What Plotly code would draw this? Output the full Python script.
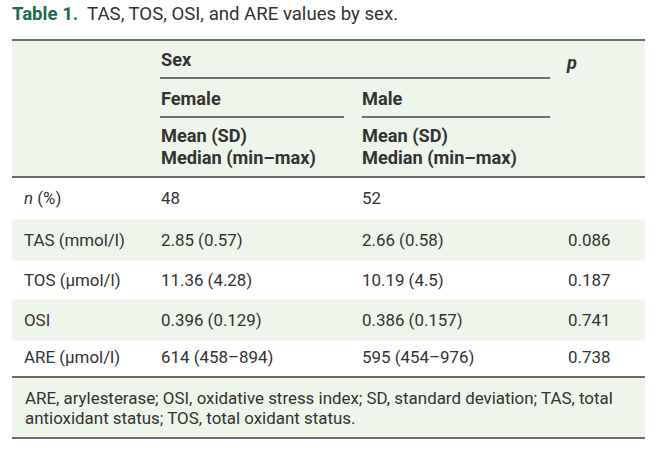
import plotly.graph_objects as go

title_bold = "Table 1."
title_rest = "TAS, TOS, OSI, and ARE values by sex."
group_header = "Sex"
p_header = "p"
sex_labels = ["Female", "Male"]
stat_header = ["Mean (SD)", "Median (min–max)"]
row_labels = ["<i>n</i> (%)", "TAS (mmol/l)", "TOS (µmol/l)", "OSI", "ARE (µmol/l)"]
female_vals = ["48", "2.85 (0.57)", "11.36 (4.28)", "0.396 (0.129)", "614 (458–894)"]
male_vals = ["52", "2.66 (0.58)", "10.19 (4.5)", "0.386 (0.157)", "595 (454–976)"]
p_vals = ["", "0.086", "0.187", "0.741", "0.738"]
footnote = ["ARE, arylesterase; OSI, oxidative stress index; SD, standard deviation; TAS, total",
            "antioxidant status; TOS, total oxidant status."]

W, H = 659, 452
GREEN_BG = "#eef5ea"
LINE = "#6b6b6b"
TXT = "#333333"
TITLE_GREEN = "#1d6b4e"
FONT = "Roboto"
FS = 16.9
FSB = 18.2

fig = go.Figure()
shapes = []
ann = []

L, R = 12, 645
shapes.append(dict(type="rect", x0=L, x1=R, y0=40, y1=177, fillcolor=GREEN_BG, line_width=0, layer="below"))
row_y = [198, 240, 280, 320, 357]
band_h = 41
for i, y in enumerate(row_y):
    if i % 2 == 1:
        shapes.append(dict(type="rect", x0=L, x1=R, y0=y - band_h / 2, y1=y + band_h / 2,
                           fillcolor=GREEN_BG, line_width=0, layer="below"))
shapes.append(dict(type="rect", x0=L, x1=R, y0=377, y1=438, fillcolor=GREEN_BG, line_width=0, layer="below"))

def hline(y, x0, x1, w=1.5, c=LINE):
    shapes.append(dict(type="line", x0=x0, x1=x1, y0=y, y1=y, line=dict(color=c, width=w)))

hline(40, L, R, 2)
hline(78, 160, 550, 1.3, "#444")
hline(117, 160, 344, 1.3, "#444")
hline(117, 362, 550, 1.3, "#444")
hline(177, L, R, 2)
hline(377, L, R, 2)
hline(438, L, R, 2)

def text(x, y, s, bold=False, size=FS, color=TXT, xanchor="left"):
    if bold:
        s = "<b>" + s + "</b>"
    ann.append(dict(x=x, y=y, xref="x", yref="y", text=s, showarrow=False, xanchor=xanchor,
                    yanchor="middle", font=dict(family=FONT, size=size, color=color), align="left"))

text(10, 14, f"<span style='color:{TITLE_GREEN}'><b>{title_bold}</b></span>  {title_rest}", size=18.6)
text(159, 59, group_header, bold=True, size=FSB)
text(564, 62, f"<i>{p_header}</i>", bold=True, size=FSB)
col_x = [159, 360]
for x, s in zip(col_x, sex_labels):
    text(x, 98, s, bold=True, size=FSB)
    text(x, 136, stat_header[0], bold=True, size=FSB)
    text(x, 158, stat_header[1], bold=True, size=FSB)

for i, y in enumerate(row_y):
    text(22, y, row_labels[i])
    text(col_x[0], y, female_vals[i])
    text(col_x[1], y, male_vals[i])
    if p_vals[i]:
        text(612, y, p_vals[i], xanchor="right")

for j, line in enumerate(footnote):
    text(23, 398 + 20 * j, line)

fig.update_layout(
    width=W, height=H, margin=dict(l=0, r=0, t=0, b=0),
    paper_bgcolor="white", plot_bgcolor="white",
    xaxis=dict(range=[0, W], visible=False, fixedrange=True),
    yaxis=dict(range=[H, 0], visible=False, fixedrange=True),
    shapes=shapes, annotations=ann, showlegend=False,
)
fig.write_html("out.html", config={"displayModeBar": False})

with open("out.html", encoding="utf-8") as f:
    html = f.read()
html = html.replace("<head>", "<head><style>html,body{margin:0;padding:0;overflow:hidden}</style>", 1)
with open("out.html", "w", encoding="utf-8") as f:
    f.write(html)
